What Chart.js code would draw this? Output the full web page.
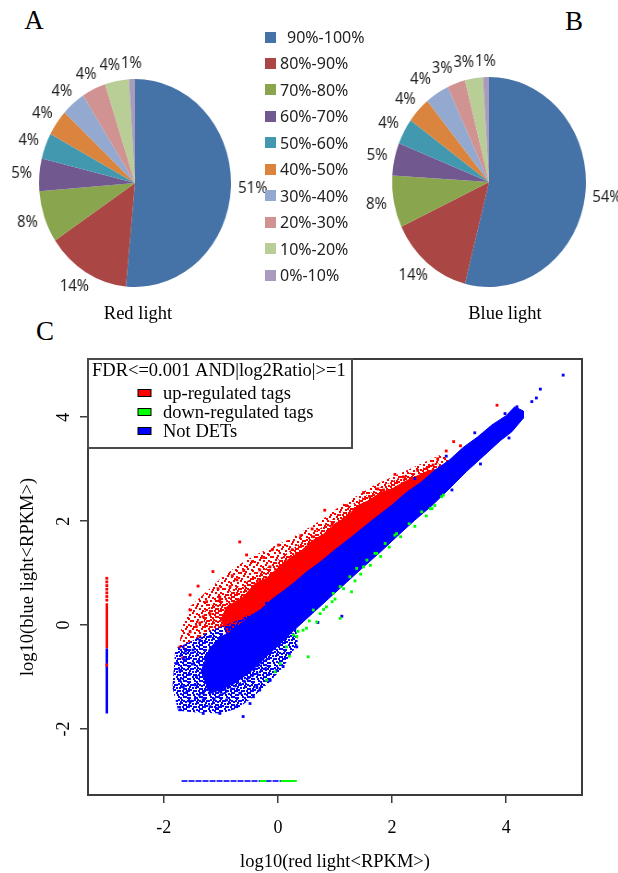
<!DOCTYPE html>
<html>
<head>
<meta charset="utf-8">
<title>Coverage and expression</title>
<script src="https://cdn.jsdelivr.net/npm/chart.js@4.4.1/dist/chart.umd.min.js"></script>
<style>
  html, body { margin: 0; padding: 0; background: #fff; }
  body { width: 618px; height: 873px; position: relative; overflow: hidden; font-family: "Liberation Serif", serif; color: #000; }
  .letter { position: absolute; font-size: 27px; line-height: 1; transform: translate(-50%, -50%); }
  .caption { position: absolute; font-size: 18.5px; line-height: 1; transform: translate(-50%, -50%); white-space: nowrap; }
  .pie { position: absolute; transform: scaleX(0.923); transform-origin: 50% 50%; }
  #legend { position: absolute; left: 265px; top: 0; font-family: "Noto Sans", sans-serif; font-size: 16px; color: #222; }
  #legend .row { position: absolute; left: 0; height: 20px; display: flex; align-items: center; white-space: nowrap; }
  #legend .sw { width: 11px; height: 11px; margin-right: 4px; }
  #legend .row:first-child .sw { margin-right: 11px; }
  #scatter { position: absolute; left: 0; top: 340px; }
</style>
</head>
<body>
<div class="letter" style="left:34px; top:20px;">A</div>
<div class="letter" style="left:574px; top:21px;">B</div>
<div class="letter" style="left:45px; top:331px;">C</div>

<canvas id="pieRed" class="pie" width="300" height="270" style="left:-15px; top:48px;"></canvas>
<canvas id="pieBlue" class="pie" width="300" height="270" style="left:339px; top:47px;"></canvas>
<div id="legend"></div>
<div class="caption" style="left:138px; top:313px;">Red light</div>
<div class="caption" style="left:505px; top:313px;">Blue light</div>

<canvas id="scatter" width="618" height="533"></canvas>

<script>
// coverage ranges and share of transcripts (%) in each
const coverageRanges = ['90%-100%', '80%-90%', '70%-80%', '60%-70%', '50%-60%', '40%-50%', '30%-40%', '20%-30%', '10%-20%', '0%-10%'];
const redLightShares = [51, 14, 8, 5, 4, 4, 4, 4, 4, 1];
const blueLightShares = [54, 14, 8, 5, 4, 4, 4, 3, 3, 1];
const sliceColors = ['#4572A7', '#AA4643', '#89A54E', '#71588F', '#4198AF', '#DB843D', '#93A9CF', '#D19392', '#B9CD96', '#A99BBD'];

// scatter axes
const xTicks = [-2, 0, 2, 4];
const yTicks = [-2, 0, 2, 4];

// solid part of each class, outlined as closed shapes [log10 red, log10 blue]
const upCore = [[-1.0, 0.1], [-0.9, 0.35], [-0.6, 0.55], [-0.4, 0.8], [-0.2, 0.9], [0, 1.1], [0.2, 1.28], [0.4, 1.42], [0.6, 1.62],
  [0.8, 1.75], [1.0, 1.95], [1.2, 2.08], [1.4, 2.3], [1.6, 2.4], [1.8, 2.55], [2.0, 2.62], [2.2, 2.75], [2.4, 2.85], [2.6, 2.95],
  [2.75, 3.0], [2.75, 2.9], [2.0, 2.2], [1.0, 1.35], [0, 0.5], [-0.5, 0.05], [-0.9, -0.2]];
const notCore = [[-1.35, -0.9], [-1.2, -0.45], [-1.0, -0.22], [-0.85, -0.15], [-0.7, -0.02], [-0.5, 0.16], [-0.3, 0.3], [-0.1, 0.5],
  [0.1, 0.66], [0.3, 0.83], [0.5, 1.02], [0.75, 1.22], [1.0, 1.45], [1.25, 1.66], [1.5, 1.88], [1.75, 2.1], [2.0, 2.31],
  [2.25, 2.55], [2.5, 2.74], [2.75, 2.98], [3.0, 3.17], [3.25, 3.42], [3.5, 3.62], [3.75, 3.85], [4.0, 4.03], [4.15, 4.2],
  [4.3, 4.12], [4.3, 3.98], [4.1, 3.72], [3.9, 3.55], [3.6, 3.25], [3.3, 2.95], [3.0, 2.62], [2.7, 2.3], [2.4, 2.02],
  [2.1, 1.72], [1.8, 1.41], [1.5, 1.12], [1.2, 0.82], [0.9, 0.52], [0.6, 0.22], [0.3, -0.08], [0.05, -0.35], [-0.2, -0.6],
  [-0.45, -0.87], [-0.7, -1.07], [-0.95, -1.22], [-1.2, -1.32]];

// looser, speckled zones around the solid parts
const upHazeInner = [[-1.3, 0.25], [-1.0, 0.55], [-0.6, 0.8], [-0.2, 1.1], [0.2, 1.42], [0.6, 1.75], [1.0, 2.07], [1.4, 2.4],
  [1.8, 2.65], [2.2, 2.88], [2.6, 3.05], [2.85, 3.12], [2.85, 2.95], [2.0, 2.2], [0, 0.5], [-0.9, -0.2], [-1.3, -0.35]];
const upHaze = [[-1.75, -0.7], [-1.7, -0.1], [-1.55, 0.35], [-1.3, 0.6], [-1.0, 0.9], [-0.7, 1.15], [-0.4, 1.35], [-0.1, 1.5],
  [0.2, 1.65], [0.5, 1.85], [0.8, 2.05], [1.1, 2.3], [1.4, 2.5], [1.7, 2.7], [2.0, 2.85], [2.3, 3.0], [2.6, 3.15], [2.9, 3.3],
  [3.0, 3.15], [2.0, 2.25], [1.0, 1.4], [0, 0.55], [-0.6, 0.0], [-1.1, -0.35], [-1.5, -0.6], [-1.75, -0.8]];
const notHaze = [[-1.8, -0.45], [-1.5, -0.3], [-1.2, -0.12], [-0.8, 0.05], [-0.4, 0.25], [0, 0.4], [0.3, 0.1], [0.35, -0.35],
  [0.1, -0.8], [-0.15, -1.1], [-0.45, -1.4], [-0.7, -1.6], [-1.0, -1.7], [-1.5, -1.68], [-1.75, -1.65], [-1.85, -1.2]];

// scattered tags outside the zones
const upPoints = [[3.84, 4.23], [3.08, 3.53], [2.72, 3.08], [2.61, 3.01], [2.32, 2.79], [2.20, 2.85], [1.61, 2.47], [1.56, 2.28],
  [0.82, 2.21], [1.32, 2.15], [1.03, 1.89], [0.50, 1.48], [0.01, 1.54], [-0.67, 1.60], [-0.55, 1.35], [-0.32, 1.06], [-1.14, 1.03],
  [-1.02, 0.48], [-1.54, 0.29], [-1.31, 0.16], [-1.43, -0.03], [-1.66, -0.42], [-1.66, -0.64], [-0.84, 0.74], [-0.72, 0.87],
  [-0.49, 0.54], [-0.14, 1.12], [0.33, 1.38], [0.62, 1.70], [1.15, 2.02], [1.85, 2.60], [1.96, 2.40], [1.38, 1.76], [-1.19, 0.22],
  [-0.96, 0.10], [-1.37, -0.22], [-0.32, 0.87], [0.15, 0.93], [-1.54, 0.58], [-1.02, 0.54], [-1.72, -0.42], [-1.54, -0.13],
  [-1.37, 0.04], [-1.67, -0.63], [2.45, 2.98], [2.05, 2.9], [1.75, 2.62], [0.95, 1.95], [0.25, 1.45], [-0.25, 1.3], [-0.8, 0.95],
  [-1.25, 0.45], [2.95, 3.35], [1.2, 2.3], [0.6, 1.85], [-0.1, 1.45], [-0.6, 1.05], [-1.05, 0.7], [3.2, 3.45], [2.8, 3.2],
  [1.5, 2.55], [0.4, 1.72], [-0.45, 1.22], [-1.4, 0.75]];
const downPoints = [[2.87, 2.47], [2.70, 2.24], [2.52, 2.18], [2.05, 1.73], [1.88, 1.57], [1.70, 1.38], [1.56, 1.25], [1.38, 1.09],
  [1.26, 0.93], [1.09, 0.74], [0.97, 0.61], [0.85, 0.35], [0.74, 0.22], [1.09, 0.13], [0.68, 0.06], [0.44, -0.10], [0.27, -0.19],
  [2.90, 2.50], [2.67, 2.24], [2.08, 1.76], [1.73, 1.38], [1.29, 0.64], [0.62, 0.29], [0.50, -0.06], [0.33, -0.22], [0.15, -0.42],
  [0.04, -0.74], [-0.20, -1.06], [0.53, -0.61], [2.3, 1.95], [1.5, 1.12], [0.95, 0.45], [0.35, -0.12], [0.55, 0.08], [0.8, 0.3],
  [1.0, 0.5], [1.15, 0.7], [1.45, 0.98], [1.62, 1.15], [1.8, 1.32], [1.95, 1.5], [2.15, 1.7], [2.4, 1.9], [2.6, 2.1], [2.75, 2.3],
  [1.35, 0.85], [0.2, -0.6], [-0.05, -0.9]];
const notPoints = [[5.0, 4.81], [4.6, 4.54], [4.53, 4.37], [4.18, 4.1], [4.19, 3.94], [3.95, 3.75], [4.19, 4.20], [4.25, 4.07],
  [3.98, 4.07], [3.57, 3.65], [3.37, 3.37], [3.25, 3.17], [3.13, 2.98], [2.90, 2.85], [2.55, 2.60], [2.20, 2.02], [1.96, 1.89],
  [1.12, 0.17], [0.33, -0.42], [0.09, -0.80], [-0.14, -1.06], [-0.43, -1.38], [-0.72, -1.57], [-1.08, -1.60], [-1.31, -1.44],
  [-1.72, -1.06], [-1.78, -0.74], [-1.72, -1.63], [-1.54, -1.47], [-1.66, -1.19], [-1.72, -0.87], [-1.63, -0.67], [-1.49, -0.48],
  [-1.37, -0.29], [-1.19, -0.22], [-1.43, -0.99], [-1.31, -1.31], [-1.19, -1.57], [-1.31, -1.70], [-0.90, -1.44], [-0.67, -1.31],
  [-0.49, -1.51], [-0.37, -1.19], [-1.08, -1.19], [-1.14, -0.87], [-0.72, -0.03], [-0.55, 0.10], [-0.20, 0.42], [-0.32, -1.25],
  [-0.14, -1.06], [-0.02, -0.87], [-0.61, -1.76], [-1.02, -1.70], [-1.5, -0.75], [-1.6, -1.3], [-1.45, -1.15], [-1.55, -0.95],
  [-1.4, -0.7], [-1.62, -0.5], [-0.85, -0.05], [4.45, 4.3], [3.75, 3.5], [0.7, 0.05], [0.2, -0.55], [3.45, 3.7], [2.95, 3.25],
  [2.4, 2.82], [4.05, 3.6], [3.55, 3.1], [3.05, 2.6]];
const notStreaks = [
  [[-1.54, -1.48], [-0.61, -0.73]],
  [[-1.02, -1.31], [-0.14, -0.62]],
  [[-1.14, -1.44], [-0.19, -0.81]]
];

// tags with zero reads in one sample, plotted at -3
const upZeroDots = [[-3, 0.9], [-3, 0.83], [-3, 0.76], [-3, 0.69], [-3, 0.62], [-3, 0.55], [-3, 0.48]];
const upZeroRun = [[-3, 0.42], [-3, -0.45]];
const upZeroBit = [[-3, -0.74], [-3, -0.8]];
const notZeroRun = [[-3, -0.45], [-3, -1.7]];
const notFloorRun = [[-1.69, -3], [0.12, -3]];
const downFloorBits = [[[-0.32, -3], [-0.2, -3]], [[0.05, -3], [0.33, -3]]];

const toXY = pts => pts.map(([x, y]) => ({x: x, y: y}));

// legend beside the pies
const legendBox = document.getElementById('legend');
coverageRanges.forEach((label, i) => {
  const row = document.createElement('div');
  row.className = 'row';
  row.style.top = (27 + i * 26.45) + 'px';
  row.innerHTML = '<span class="sw" style="background:' + sliceColors[i] + '"></span><span>' + label + '</span>';
  legendBox.appendChild(row);
});

// percentage labels just outside each slice, pushed apart where they collide
const pieLabels = {
  id: 'pieLabels',
  afterDatasetsDraw(chart) {
    const ctx = chart.ctx;
    const values = chart.data.datasets[0].data;
    ctx.save();
    ctx.font = '16px "Noto Sans"';
    ctx.fillStyle = '#222';
    ctx.textAlign = 'center';
    ctx.textBaseline = 'middle';
    const boxes = chart.getDatasetMeta(0).data.map((arc, i) => {
      const p = arc.getProps(['x', 'y', 'startAngle', 'endAngle', 'outerRadius'], true);
      const mid = (p.startAngle + p.endAngle) / 2;
      const text = values[i] + '%';
      const w = ctx.measureText(text).width;
      const r = p.outerRadius + 8;
      return { text: text, w: w, x: p.x + Math.cos(mid) * (r + w / 2), y: p.y + Math.sin(mid) * (r + 8) };
    });
    for (let i = boxes.length - 2; i >= 0; i--) {
      const a = boxes[i], b = boxes[i + 1];
      const overlap = (a.x + a.w / 2 + 1) - (b.x - b.w / 2);
      if (Math.abs(a.y - b.y) < 14 && a.x < b.x && overlap > 0) a.x -= overlap;
    }
    boxes.forEach(b => ctx.fillText(b.text, b.x, b.y));
    ctx.restore();
  }
};

function makePie(id, shares, radius) {
  const padX = 150 - radius, padY = 135 - radius;
  return new Chart(document.getElementById(id), {
    type: 'pie',
    data: {
      labels: coverageRanges,
      datasets: [{ data: shares, backgroundColor: sliceColors, borderWidth: 0, hoverOffset: 0 }]
    },
    options: {
      responsive: false,
      animation: false,
      layout: { padding: { left: padX, right: padX, top: padY, bottom: padY } },
      plugins: { legend: { display: false }, tooltip: { enabled: false } }
    },
    plugins: [pieLabels]
  });
}

makePie('pieRed', redLightShares, 104);
makePie('pieBlue', blueLightShares, 105);

// box around the plot and the key in its top-left corner
const frameAndKey = {
  id: 'frameAndKey',
  afterDraw(chart) {
    const {ctx, chartArea: a} = chart;
    ctx.save();
    ctx.strokeStyle = '#3c3c3c';
    ctx.lineWidth = 2;
    ctx.strokeRect(a.left, a.top, a.right - a.left, a.bottom - a.top);

    const w = 264, h = 89;
    ctx.fillStyle = '#fff';
    ctx.fillRect(a.left, a.top, w, h);
    ctx.strokeStyle = '#4a4a4a';
    ctx.strokeRect(a.left, a.top, w, h);

    ctx.font = '18.5px "Liberation Serif"';
    ctx.fillStyle = '#000';
    ctx.textBaseline = 'middle';
    ctx.fillText('FDR<=0.001 AND|log2Ratio|>=1', a.left + 4, a.top + 12);
    const keys = [['up-regulated tags', '#FF0000'], ['down-regulated tags', '#00FF00'], ['Not DETs', '#0000FF']];
    keys.forEach(([label, color], i) => {
      const y = a.top + 34 + i * 19;
      ctx.fillStyle = color;
      ctx.fillRect(a.left + 50, y - 3.5, 13, 7);
      ctx.strokeStyle = '#000';
      ctx.lineWidth = 1;
      ctx.strokeRect(a.left + 50, y - 3.5, 13, 7);
      ctx.fillStyle = '#000';
      ctx.fillText(label, a.left + 75, y + 1);
    });
    ctx.restore();
  }
};

// speckle fills for the loose zones: 2px dots on a 16px tile
const looseSpots = [[0, 0], [4, 1], [9, 0], [13, 2], [2, 4], [7, 4], [11, 5], [0, 8], [5, 7], [9, 9], [14, 8], [3, 11],
  [7, 12], [12, 12], [1, 14], [10, 14], [14, 13], [6, 2], [12, 6], [4, 9]];
const closeSpots = looseSpots.concat([[7, 0], [11, 2], [1, 2], [9, 4], [4, 5], [13, 5], [2, 7], [7, 8], [11, 8], [0, 11],
  [5, 10], [9, 12], [13, 10], [3, 14], [6, 14], [12, 14]]);
function speckle(color, spots) {
  const tile = document.createElement('canvas');
  tile.width = 16;
  tile.height = 16;
  const t = tile.getContext('2d');
  t.fillStyle = color;
  spots.forEach(([x, y]) => t.fillRect(x, y, 2, 2));
  return t.createPattern(tile, 'repeat');
}

const shape = (pts, fillStyle, color, order) => ({
  data: toXY(pts), showLine: true, fill: 'shape', backgroundColor: fillStyle, borderColor: color,
  borderWidth: 1, pointRadius: 0, order: order
});
const dots = (pts, color, order) => ({
  data: toXY(pts), backgroundColor: color, pointBackgroundColor: color, pointStyle: 'rect',
  pointRadius: 2, pointBorderWidth: 0, order: order
});
const run = (pts, color, width, order, dash) => ({
  data: toXY(pts), showLine: true, borderColor: color, borderWidth: width, borderDash: dash || [],
  pointRadius: 0, order: order
});

const clear = 'rgba(0,0,0,0)';
const datasets = [
  dots(downPoints, '#00FF00', 0),
  run(upZeroBit, '#FF0000', 2.5, 0),
  ...downFloorBits.map(b => run(b, '#00FF00', 2, 0)),
  dots(notPoints, '#0000FF', 1),
  run(notZeroRun, '#0000FF', 2.5, 1),
  run(notFloorRun, '#3333FF', 2, 1, [6, 1]),
  ...notStreaks.map(s => run(s, '#0000FF', 2, 1, [3, 2])),
  shape(notCore, '#0000FF', '#0000FF', 2),
  shape(notHaze, speckle('#0000FF', closeSpots), clear, 3),
  dots(upPoints, '#FF0000', 4),
  dots(upZeroDots, '#FF0000', 4),
  run(upZeroRun, '#FF0000', 2.5, 4),
  shape(upCore, '#FF0000', '#FF0000', 5),
  shape(upHazeInner, speckle('#FF0000', closeSpots), clear, 6),
  shape(upHaze, speckle('#FF0000', looseSpots), clear, 7)
];

const axisFont = { family: 'Liberation Serif', size: 18 };

new Chart(document.getElementById('scatter'), {
  type: 'scatter',
  data: { datasets: datasets },
  options: {
    responsive: false,
    animation: false,
    layout: { padding: { top: 19, right: 36, left: 0, bottom: 0 } },
    plugins: { legend: { display: false }, tooltip: { enabled: false } },
    scales: {
      x: {
        type: 'linear', min: -3.33, max: 5.33,
        afterBuildTicks: axis => { axis.ticks = xTicks.map(v => ({ value: v })); },
        afterFit: axis => { axis.height = 78; },
        border: { display: false },
        grid: { drawOnChartArea: false, drawTicks: true, tickLength: 8, color: '#3c3c3c', lineWidth: 1.5 },
        ticks: { font: axisFont, color: '#000', padding: 14, maxRotation: 0 },
        title: { display: true, text: 'log10(red light<RPKM>)', font: { family: 'Liberation Serif', size: 18.5 }, color: '#000', padding: { top: 0, bottom: 0 } }
      },
      y: {
        type: 'linear', min: -3.27, max: 5.12,
        afterBuildTicks: axis => { axis.ticks = yTicks.map(v => ({ value: v })); },
        afterFit: axis => { axis.width = 88; },
        border: { display: false },
        grid: { drawOnChartArea: false, drawTicks: true, tickLength: 8, color: '#3c3c3c', lineWidth: 1.5 },
        ticks: { font: axisFont, color: '#000', padding: 8, minRotation: 90, maxRotation: 90, crossAlign: 'center' },
        title: { display: true, text: 'log10(blue light<RPKM>)', font: { family: 'Liberation Serif', size: 18.5 }, color: '#000', padding: { top: 17, bottom: 0 } }
      }
    }
  },
  plugins: [frameAndKey]
});
</script>
</body>
</html>
